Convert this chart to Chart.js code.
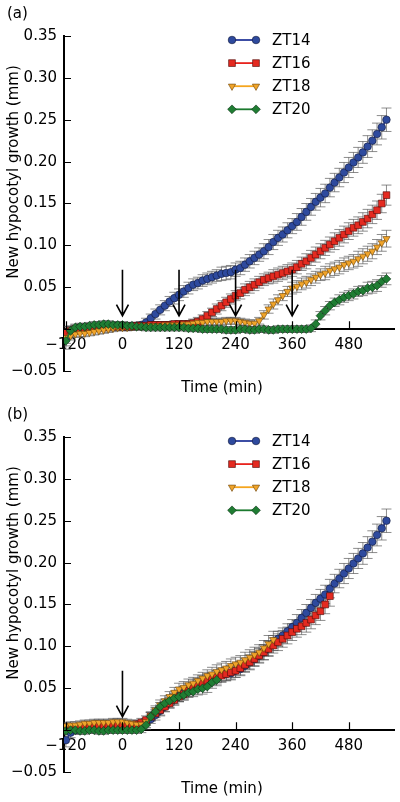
<!DOCTYPE html>
<html>
<head>
<meta charset="utf-8">
<script src="https://cdn.jsdelivr.net/npm/chart.js@4.4.1/dist/chart.umd.min.js"></script>
<style>
  html, body { margin: 0; padding: 0; background: #fff; }
  .panel { position: relative; width: 400px; height: 401px; }
</style>
</head>
<body>
<div class="panel"><canvas id="chart-a"></canvas></div>
<div class="panel"><canvas id="chart-b"></canvas></div>
<script>
// time after the start of recording (min), one reading every 10 min
var times = [-120,-110,-100,-90,-80,-70,-60,-50,-40,-30,
             -20,-10,0,10,20,30,40,50,60,70,
             80,90,100,110,120,130,140,150,160,170,
             180,190,200,210,220,230,240,250,260,270,
             280,290,300,310,320,330,340,350,360,370,
             380,390,400,410,420,430,440,450,460,470,
             480,490,500,510,520,530,540,550,560];

// new hypocotyl growth (mm)
var zt14 = [-0.012,-0.003,0.000,0.002,0.002,0.002,0.003,0.003,0.004,0.004,
            0.004,0.004,0.004,0.003,0.004,0.004,0.005,0.008,0.013,0.018,
            0.023,0.028,0.033,0.037,0.041,0.045,0.049,0.053,0.055,0.058,
            0.060,0.062,0.064,0.066,0.067,0.068,0.071,0.073,0.077,0.081,
            0.085,0.089,0.093,0.098,0.104,0.109,0.113,0.118,0.123,0.128,
            0.134,0.140,0.146,0.152,0.157,0.162,0.169,0.175,0.181,0.187,
            0.193,0.199,0.205,0.211,0.218,0.225,0.233,0.241,0.250];
var zt16 = [-0.004,-0.002,0.000,0.001,0.001,0.002,0.002,0.002,0.002,0.003,
            0.003,0.003,0.003,0.003,0.003,0.004,0.004,0.004,0.005,0.005,
            0.005,0.005,0.005,0.006,0.006,0.006,0.006,0.007,0.009,0.012,
            0.016,0.020,0.024,0.028,0.032,0.036,0.040,0.043,0.047,0.050,
            0.053,0.056,0.059,0.061,0.063,0.065,0.067,0.069,0.071,0.074,
            0.078,0.081,0.085,0.089,0.093,0.097,0.101,0.105,0.109,0.113,
            0.117,0.121,0.124,0.128,0.132,0.137,0.142,0.150,0.160];
var zt18 = [-0.010,-0.008,-0.006,-0.005,-0.005,-0.004,-0.003,-0.002,-0.001,0.000,
            0.001,0.002,0.002,0.002,0.003,0.003,0.003,0.004,0.004,0.004,
            0.004,0.005,0.005,0.005,0.005,0.006,0.006,0.007,0.008,0.008,
            0.009,0.009,0.009,0.009,0.010,0.010,0.010,0.009,0.008,0.007,
            0.007,0.010,0.017,0.024,0.030,0.035,0.040,0.045,0.049,0.051,
            0.054,0.056,0.059,0.062,0.065,0.067,0.070,0.072,0.074,0.077,
            0.079,0.081,0.084,0.087,0.090,0.093,0.098,0.103,0.108];
var zt20 = [-0.014,-0.002,0.002,0.003,0.003,0.004,0.005,0.005,0.006,0.006,
            0.005,0.005,0.005,0.004,0.004,0.003,0.003,0.002,0.002,0.002,
            0.002,0.002,0.002,0.002,0.002,0.002,0.001,0.001,0.001,0.000,
            0.000,0.000,0.000,0.000,-0.001,-0.001,-0.001,0.000,0.000,-0.001,
            -0.001,0.000,0.000,-0.001,-0.001,0.000,0.000,0.000,0.000,0.000,
            0.000,0.000,0.001,0.006,0.016,0.022,0.028,0.032,0.035,0.038,
            0.040,0.042,0.045,0.046,0.049,0.050,0.052,0.057,0.060];

// standard errors (mm)
var err14 = [0.008,0.006,0.005,0.004,0.004,0.004,0.004,0.004,0.004,0.004,
             0.004,0.004,0.004,0.004,0.004,0.004,0.004,0.005,0.005,0.006,
             0.006,0.006,0.006,0.007,0.007,0.007,0.007,0.007,0.007,0.007,
             0.007,0.007,0.007,0.008,0.008,0.008,0.008,0.008,0.008,0.008,
             0.008,0.008,0.009,0.009,0.009,0.009,0.009,0.009,0.009,0.010,
             0.010,0.010,0.010,0.010,0.011,0.011,0.011,0.011,0.011,0.012,
             0.012,0.012,0.012,0.013,0.013,0.013,0.013,0.014,0.014];
var err16 = [0.007,0.005,0.004,0.004,0.004,0.004,0.004,0.004,0.004,0.004,
             0.004,0.004,0.004,0.004,0.004,0.004,0.004,0.004,0.004,0.004,
             0.004,0.004,0.004,0.004,0.004,0.004,0.004,0.005,0.005,0.005,
             0.005,0.005,0.006,0.006,0.006,0.006,0.006,0.007,0.007,0.007,
             0.007,0.007,0.007,0.007,0.008,0.008,0.008,0.008,0.008,0.008,
             0.008,0.009,0.009,0.009,0.009,0.009,0.009,0.010,0.010,0.010,
             0.010,0.010,0.010,0.011,0.011,0.011,0.011,0.011,0.012];
var err18 = [0.007,0.005,0.004,0.004,0.004,0.004,0.004,0.004,0.004,0.004,
             0.004,0.004,0.004,0.004,0.004,0.004,0.004,0.004,0.004,0.004,
             0.004,0.004,0.004,0.004,0.004,0.004,0.004,0.004,0.004,0.004,
             0.004,0.004,0.004,0.004,0.004,0.004,0.004,0.004,0.004,0.004,
             0.004,0.004,0.005,0.005,0.006,0.006,0.006,0.006,0.007,0.007,
             0.007,0.007,0.007,0.007,0.007,0.008,0.008,0.008,0.008,0.008,
             0.008,0.008,0.009,0.009,0.009,0.009,0.009,0.010,0.010];
var err20 = [0.010,0.006,0.004,0.004,0.004,0.004,0.004,0.004,0.004,0.004,
             0.004,0.004,0.004,0.004,0.004,0.004,0.004,0.004,0.004,0.004,
             0.004,0.004,0.004,0.004,0.004,0.004,0.004,0.004,0.004,0.004,
             0.004,0.004,0.004,0.004,0.004,0.004,0.004,0.004,0.004,0.004,
             0.004,0.004,0.004,0.004,0.004,0.004,0.004,0.004,0.004,0.004,
             0.004,0.004,0.004,0.005,0.005,0.005,0.005,0.005,0.006,0.006,
             0.006,0.006,0.006,0.006,0.007,0.007,0.007,0.007,0.007];

var seriesNames = ['ZT14', 'ZT16', 'ZT18', 'ZT20'];
var seriesValues = [zt14, zt16, zt18, zt20];
var seriesErrors = [err14, err16, err18, err20];
// panel (b): each series re-aligned to its own treatment time
var treatmentLag = [0, 120, 240, 360];

var xTicks = [-120, 0, 120, 240, 360, 480];
var yTicks = [-0.05, 0, 0.05, 0.10, 0.15, 0.20, 0.25, 0.30, 0.35];
var arrowsA = [0, 120, 240, 360];
var arrowsB = [0];

// styles
var lineColors = ['#26399a', '#e8231d', '#f5a51e', '#1b7a2e'];
var fillColors = ['#2e4a9e', '#e42a20', '#f0a42a', '#1f7d33'];
var edgeColors = ['#101838', '#4a0a08', '#6a4208', '#0c3014'];
var pointStyles = ['circle', 'rect', 'triangle', 'rectRot'];
var pointRotations = [0, 0, 180, 0];
var pointRadii = [3.8, 4.8, 4.2, 4.4];

Chart.defaults.font.family = '"DejaVu Sans", sans-serif';
Chart.defaults.font.size = 15;
Chart.defaults.color = '#000';

function minus(s) { return s.replace('-', '\u2212'); }

function buildDatasets(lags) {
    return seriesNames.map(function (name, i) {
        var lag = lags ? lags[i] : 0;
        var pts = [];
        times.forEach(function (t, k) {
            if (t - lag >= -120) {
                pts.push({ x: t - lag, y: seriesValues[i][k], e: seriesErrors[i][k] });
            }
        });
        return {
            label: name,
            data: pts,
            order: 3 - i,
            borderColor: lineColors[i],
            borderWidth: 1.5,
            tension: 0,
            pointStyle: pointStyles[i],
            pointRotation: pointRotations[i],
            pointRadius: pointRadii[i],
            pointBackgroundColor: fillColors[i],
            pointBorderColor: edgeColors[i],
            pointBorderWidth: 0.6
        };
    });
}

// grey error bars with caps, under the markers
var errorBars = {
    id: 'errorBars',
    beforeDatasetsDraw: function (chart) {
        var ctx = chart.ctx, xs = chart.scales.x, ys = chart.scales.y, a = chart.chartArea;
        ctx.save();
        ctx.beginPath();
        ctx.rect(a.left, a.top, a.right - a.left, a.bottom - a.top);
        ctx.clip();
        ctx.strokeStyle = 'rgba(80,80,80,0.65)';
        ctx.lineWidth = 1;
        chart.data.datasets.forEach(function (ds) {
            ds.data.forEach(function (p) {
                var px = xs.getPixelForValue(p.x);
                var top = ys.getPixelForValue(p.y + p.e);
                var bot = ys.getPixelForValue(p.y - p.e);
                ctx.beginPath();
                ctx.moveTo(px, top); ctx.lineTo(px, bot);
                ctx.moveTo(px - 5, top); ctx.lineTo(px + 5, top);
                ctx.moveTo(px - 5, bot); ctx.lineTo(px + 5, bot);
                ctx.stroke();
            });
        });
        ctx.restore();
    }
};

// treatment arrows
var arrows = {
    id: 'arrows',
    afterDatasetsDraw: function (chart, args, opts) {
        var ctx = chart.ctx, xs = chart.scales.x, ys = chart.scales.y;
        ctx.save();
        ctx.strokeStyle = '#000';
        ctx.lineWidth = 1.6;
        opts.at.forEach(function (t) {
            var px = xs.getPixelForValue(t);
            var top = ys.getPixelForValue(0.071);
            var tip = ys.getPixelForValue(0.016);
            ctx.beginPath();
            ctx.moveTo(px, top); ctx.lineTo(px, tip);
            ctx.moveTo(px - 6, tip - 11); ctx.lineTo(px, tip); ctx.lineTo(px + 6, tip - 11);
            ctx.stroke();
        });
        ctx.restore();
    }
};

// inward tick marks, legend, titles
var decorations = {
    id: 'decorations',
    afterDraw: function (chart, args, opts) {
        var ctx = chart.ctx, xs = chart.scales.x, ys = chart.scales.y, a = chart.chartArea;
        var y0 = ys.getPixelForValue(0);
        ctx.save();
        ctx.strokeStyle = '#000';
        ctx.lineWidth = 1.2;
        ctx.beginPath();
        yTicks.forEach(function (v) {
            var py = Math.round(ys.getPixelForValue(v)) + 0.5;
            ctx.moveTo(a.left, py); ctx.lineTo(a.left + 7, py);
        });
        xTicks.forEach(function (v) {
            var px = Math.round(xs.getPixelForValue(v)) + 0.5;
            ctx.moveTo(px, y0); ctx.lineTo(px, y0 - 8);
        });
        ctx.stroke();

        // legend
        seriesNames.forEach(function (name, i) {
            var ly = 40 + i * 23.1;
            ctx.strokeStyle = lineColors[i];
            ctx.lineWidth = 1.8;
            ctx.beginPath();
            ctx.moveTo(232, ly); ctx.lineTo(256, ly);
            ctx.stroke();
            ctx.fillStyle = fillColors[i];
            ctx.strokeStyle = edgeColors[i];
            ctx.lineWidth = 0.6;
            [232, 256].forEach(function (lx) {
                Chart.helpers.drawPoint(ctx, {
                    pointStyle: pointStyles[i], rotation: pointRotations[i],
                    radius: pointRadii[i], borderWidth: 0.6
                }, lx, ly);
            });
            ctx.fillStyle = '#000';
            ctx.font = '15px "DejaVu Sans"';
            ctx.textAlign = 'left';
            ctx.textBaseline = 'middle';
            ctx.fillText(name, 272, ly + 1);
        });

        ctx.fillStyle = '#000';
        ctx.font = '15px "DejaVu Sans"';
        ctx.textAlign = 'left';
        ctx.textBaseline = 'middle';
        ctx.fillText(opts.label, 7, 14);

        ctx.textAlign = 'center';
        ctx.fillText('Time (min)', 222, 388);

        ctx.translate(14, 172);
        ctx.rotate(-Math.PI / 2);
        ctx.fillText('New hypocotyl growth (mm)', 0, 0);
        ctx.restore();
    }
};

function makeChart(id, datasets, label, arrowTimes) {
    return new Chart(document.getElementById(id), {
        type: 'line',
        data: { datasets: datasets },
        options: {
            responsive: true,
            maintainAspectRatio: false,
            devicePixelRatio: 1,
            animation: false,
            events: [],
            layout: { padding: { left: 0, top: 36, right: 6, bottom: 30 } },
            plugins: {
                legend: { display: false },
                tooltip: { enabled: false },
                arrows: { at: arrowTimes },
                decorations: { label: label }
            },
            scales: {
                x: {
                    type: 'linear',
                    min: -124,
                    max: 576,
                    position: { y: 0 },
                    afterBuildTicks: function (s) { s.ticks = xTicks.map(function (v) { return { value: v }; }); },
                    afterFit: function (s) { s.height = 0; },
                    grid: { display: false, drawTicks: false },
                    border: { display: true, color: '#000', width: 2 },
                    ticks: {
                        padding: 7, maxRotation: 0, autoSkip: false, color: '#000',
                        callback: function (v) { return minus(String(v)); }
                    }
                },
                y: {
                    min: -0.05,
                    max: 0.35,
                    afterBuildTicks: function (s) { s.ticks = yTicks.map(function (v) { return { value: v }; }); },
                    afterFit: function (s) { s.width = 64; },
                    grid: { display: false, drawTicks: false },
                    border: { display: true, color: '#000', width: 2 },
                    ticks: {
                        padding: 7, color: '#000',
                        callback: function (v) { return Math.abs(v) < 1e-9 ? '' : minus(v.toFixed(2)); }
                    }
                }
            }
        },
        plugins: [errorBars, arrows, decorations]
    });
}

makeChart('chart-a', buildDatasets(null), '(a)', arrowsA);
makeChart('chart-b', buildDatasets(treatmentLag), '(b)', arrowsB);
</script>
</body>
</html>
